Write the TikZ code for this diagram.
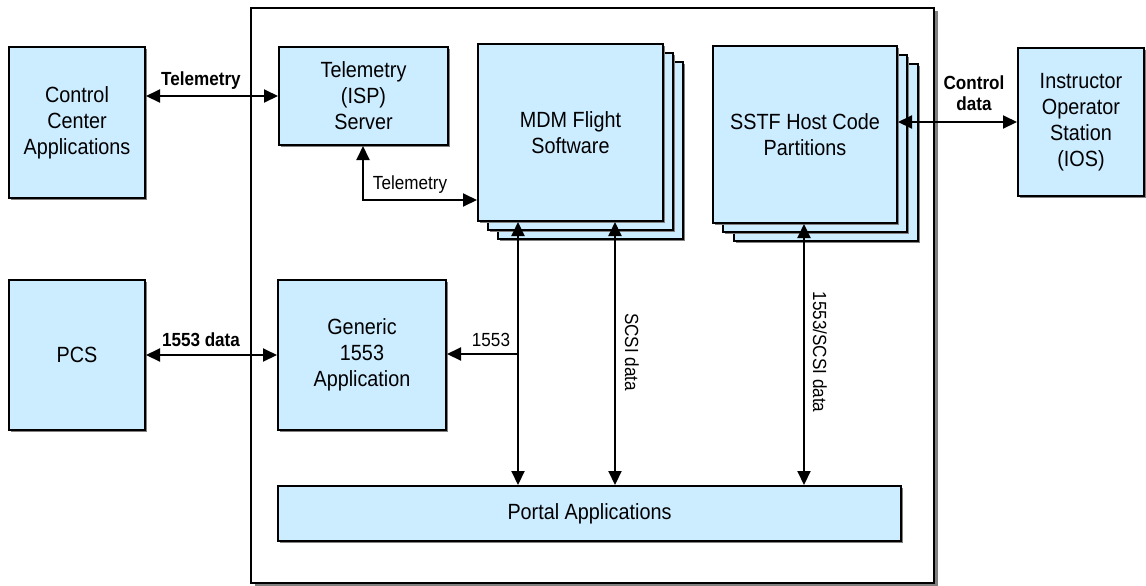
\documentclass[tikz,border=0pt]{standalone}
\usepackage{fontspec}
\setmainfont{Liberation Sans}[FakeStretch=0.9]
\usetikzlibrary{shadows,arrows.meta}
\definecolor{boxblue}{RGB}{204,236,255}
\definecolor{shadowgray}{RGB}{128,128,128}
\begin{document}
\begin{tikzpicture}[x=0.5pt,y=-0.5pt,
 box/.style={draw=black, line width=1pt, fill=boxblue,
   drop shadow={shadow xshift=1pt, shadow yshift=-1pt, fill=shadowgray, opacity=1},
   align=center, font=\fontsize{11}{13}\selectfont, inner sep=0pt, anchor=north west},
 conn/.style={line width=1pt, -{Triangle[length=7pt,width=6.5pt]}},
 bconn/.style={line width=1pt, {Triangle[length=7pt,width=6.5pt]}-{Triangle[length=7pt,width=6.5pt]}},
 blabel/.style={font=\fontsize{9.5}{10.5}\selectfont\bfseries, inner sep=0pt, align=center},
 rlabel/.style={font=\fontsize{9.5}{10.5}\selectfont, inner sep=0pt}]
\useasboundingbox (0,0) rectangle (1146,585);
% frame
\node[draw=black, line width=1pt, fill=white, minimum width=341.5pt, minimum height=287.5pt,
  anchor=north west, inner sep=0pt,
  drop shadow={shadow xshift=2pt, shadow yshift=-1.5pt, fill=shadowgray, opacity=1}] (frame) at (250,7) {};
% boxes
\node[box, minimum width=68pt, minimum height=75.5pt] (cc) at (8,46) {Control\\Center\\Applications};
\node[box, minimum width=84.5pt, minimum height=49pt] (ts) at (278,46) {Telemetry\\(ISP)\\Server};
\node[box, minimum width=92.5pt, minimum height=88.5pt] (mdm3) at (497,61) {};
\node[box, minimum width=92.5pt, minimum height=88.5pt] (mdm2) at (487,52) {};
\node[box, minimum width=92.5pt, minimum height=88.5pt] (mdm) at (477,43) {MDM Flight\\Software};
\node[box, minimum width=92pt, minimum height=88.5pt] (sstf3) at (733,63) {};
\node[box, minimum width=92pt, minimum height=88.5pt] (sstf2) at (722,54) {};
\node[box, minimum width=92pt, minimum height=88.5pt] (sstf) at (712,45) {SSTF Host Code\\Partitions};
\node[box, minimum width=63pt, minimum height=74pt] (ios) at (1017,47) {Instructor\\Operator\\Station\\(IOS)};
\node[box, minimum width=68pt, minimum height=75pt] (pcs) at (8,279) {PCS};
\node[box, minimum width=84pt, minimum height=75pt] (gen) at (277,279) {Generic\\1553\\Application};
\node[box, minimum width=311.5pt, minimum height=27.5pt] (portal) at (277,485) {Portal Applications};
% helper coordinates
\coordinate (tm) at (363,200);
\coordinate (yc) at (0,122);
\coordinate (xa) at (518,0);
\coordinate (xb) at (615,0);
\coordinate (xc) at (804,0);
\coordinate (br) at (518,354);
% connectors
\draw[bconn] (cc.east |- ts.west) -- (ts.west);
\node[blabel] (lt1) at (201,81) {Telemetry};
\draw[bconn] (ts.south -| tm) -- (tm) -- (tm -| mdm.west);
\node[rlabel] (lt2) at (410,185) {Telemetry};
\draw[bconn] (sstf.east |- yc) -- (ios.west |- yc);
\node[blabel] (lcd) at (974,93) {Control\\data};
\draw[bconn] (pcs.east) -- (gen.west);
\node[blabel] (l15d) at (201,340) {1553 data};
\draw[bconn] (mdm.south -| xa) -- (portal.north -| xa);
\draw[conn] (br) -- (br -| gen.east);
\node[rlabel] (l1553) at (491,340) {1553};
\draw[bconn] (mdm.south -| xb) -- (portal.north -| xb);
\node[rlabel, rotate=-90] (lscsi) at (632,352) {SCSI data};
\draw[bconn] (sstf.south -| xc) -- (portal.north -| xc);
\node[rlabel, rotate=-90] (lss) at (820,352) {1553/SCSI data};
\end{tikzpicture}
\end{document}
